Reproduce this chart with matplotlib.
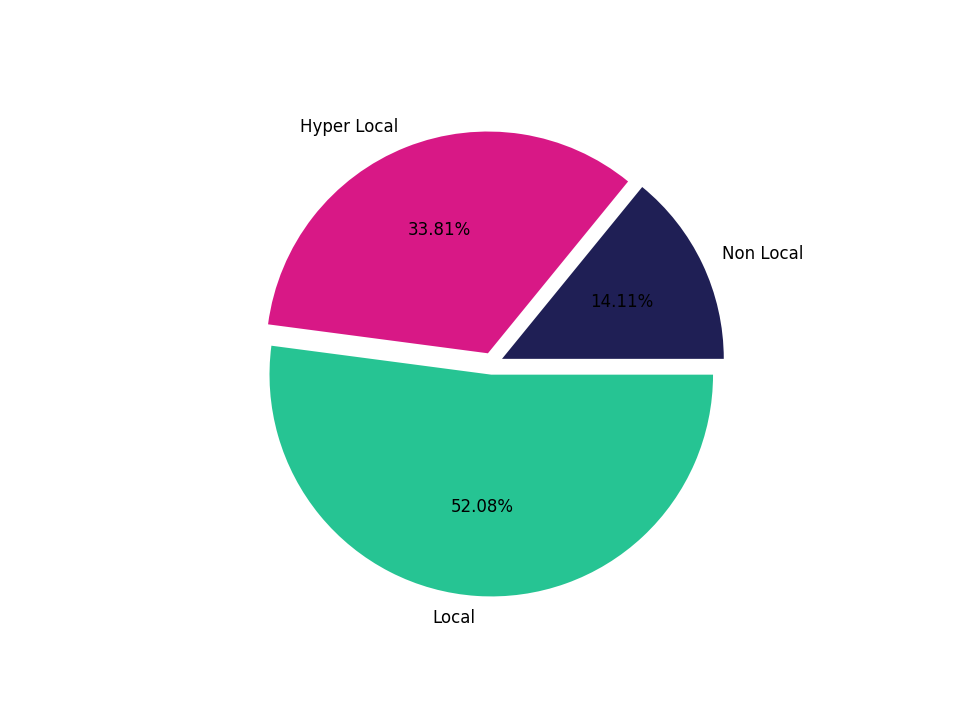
import matplotlib
matplotlib.use("Agg")
import matplotlib.pyplot as plt

labels = ["Non Local", "Hyper Local", "Local"]
values = [14.11, 33.81, 52.09]
colors = ["#1f1f55", "#d81886", "#26c493"]
explode = [0.05, 0.05, 0.05]

fig, ax = plt.subplots(figsize=(9.6, 7.2), dpi=100)
ax.pie(values, labels=labels, colors=colors, explode=explode,
       autopct="%.2f%%", textprops={"fontsize": 12})
fig.savefig("out.png")
